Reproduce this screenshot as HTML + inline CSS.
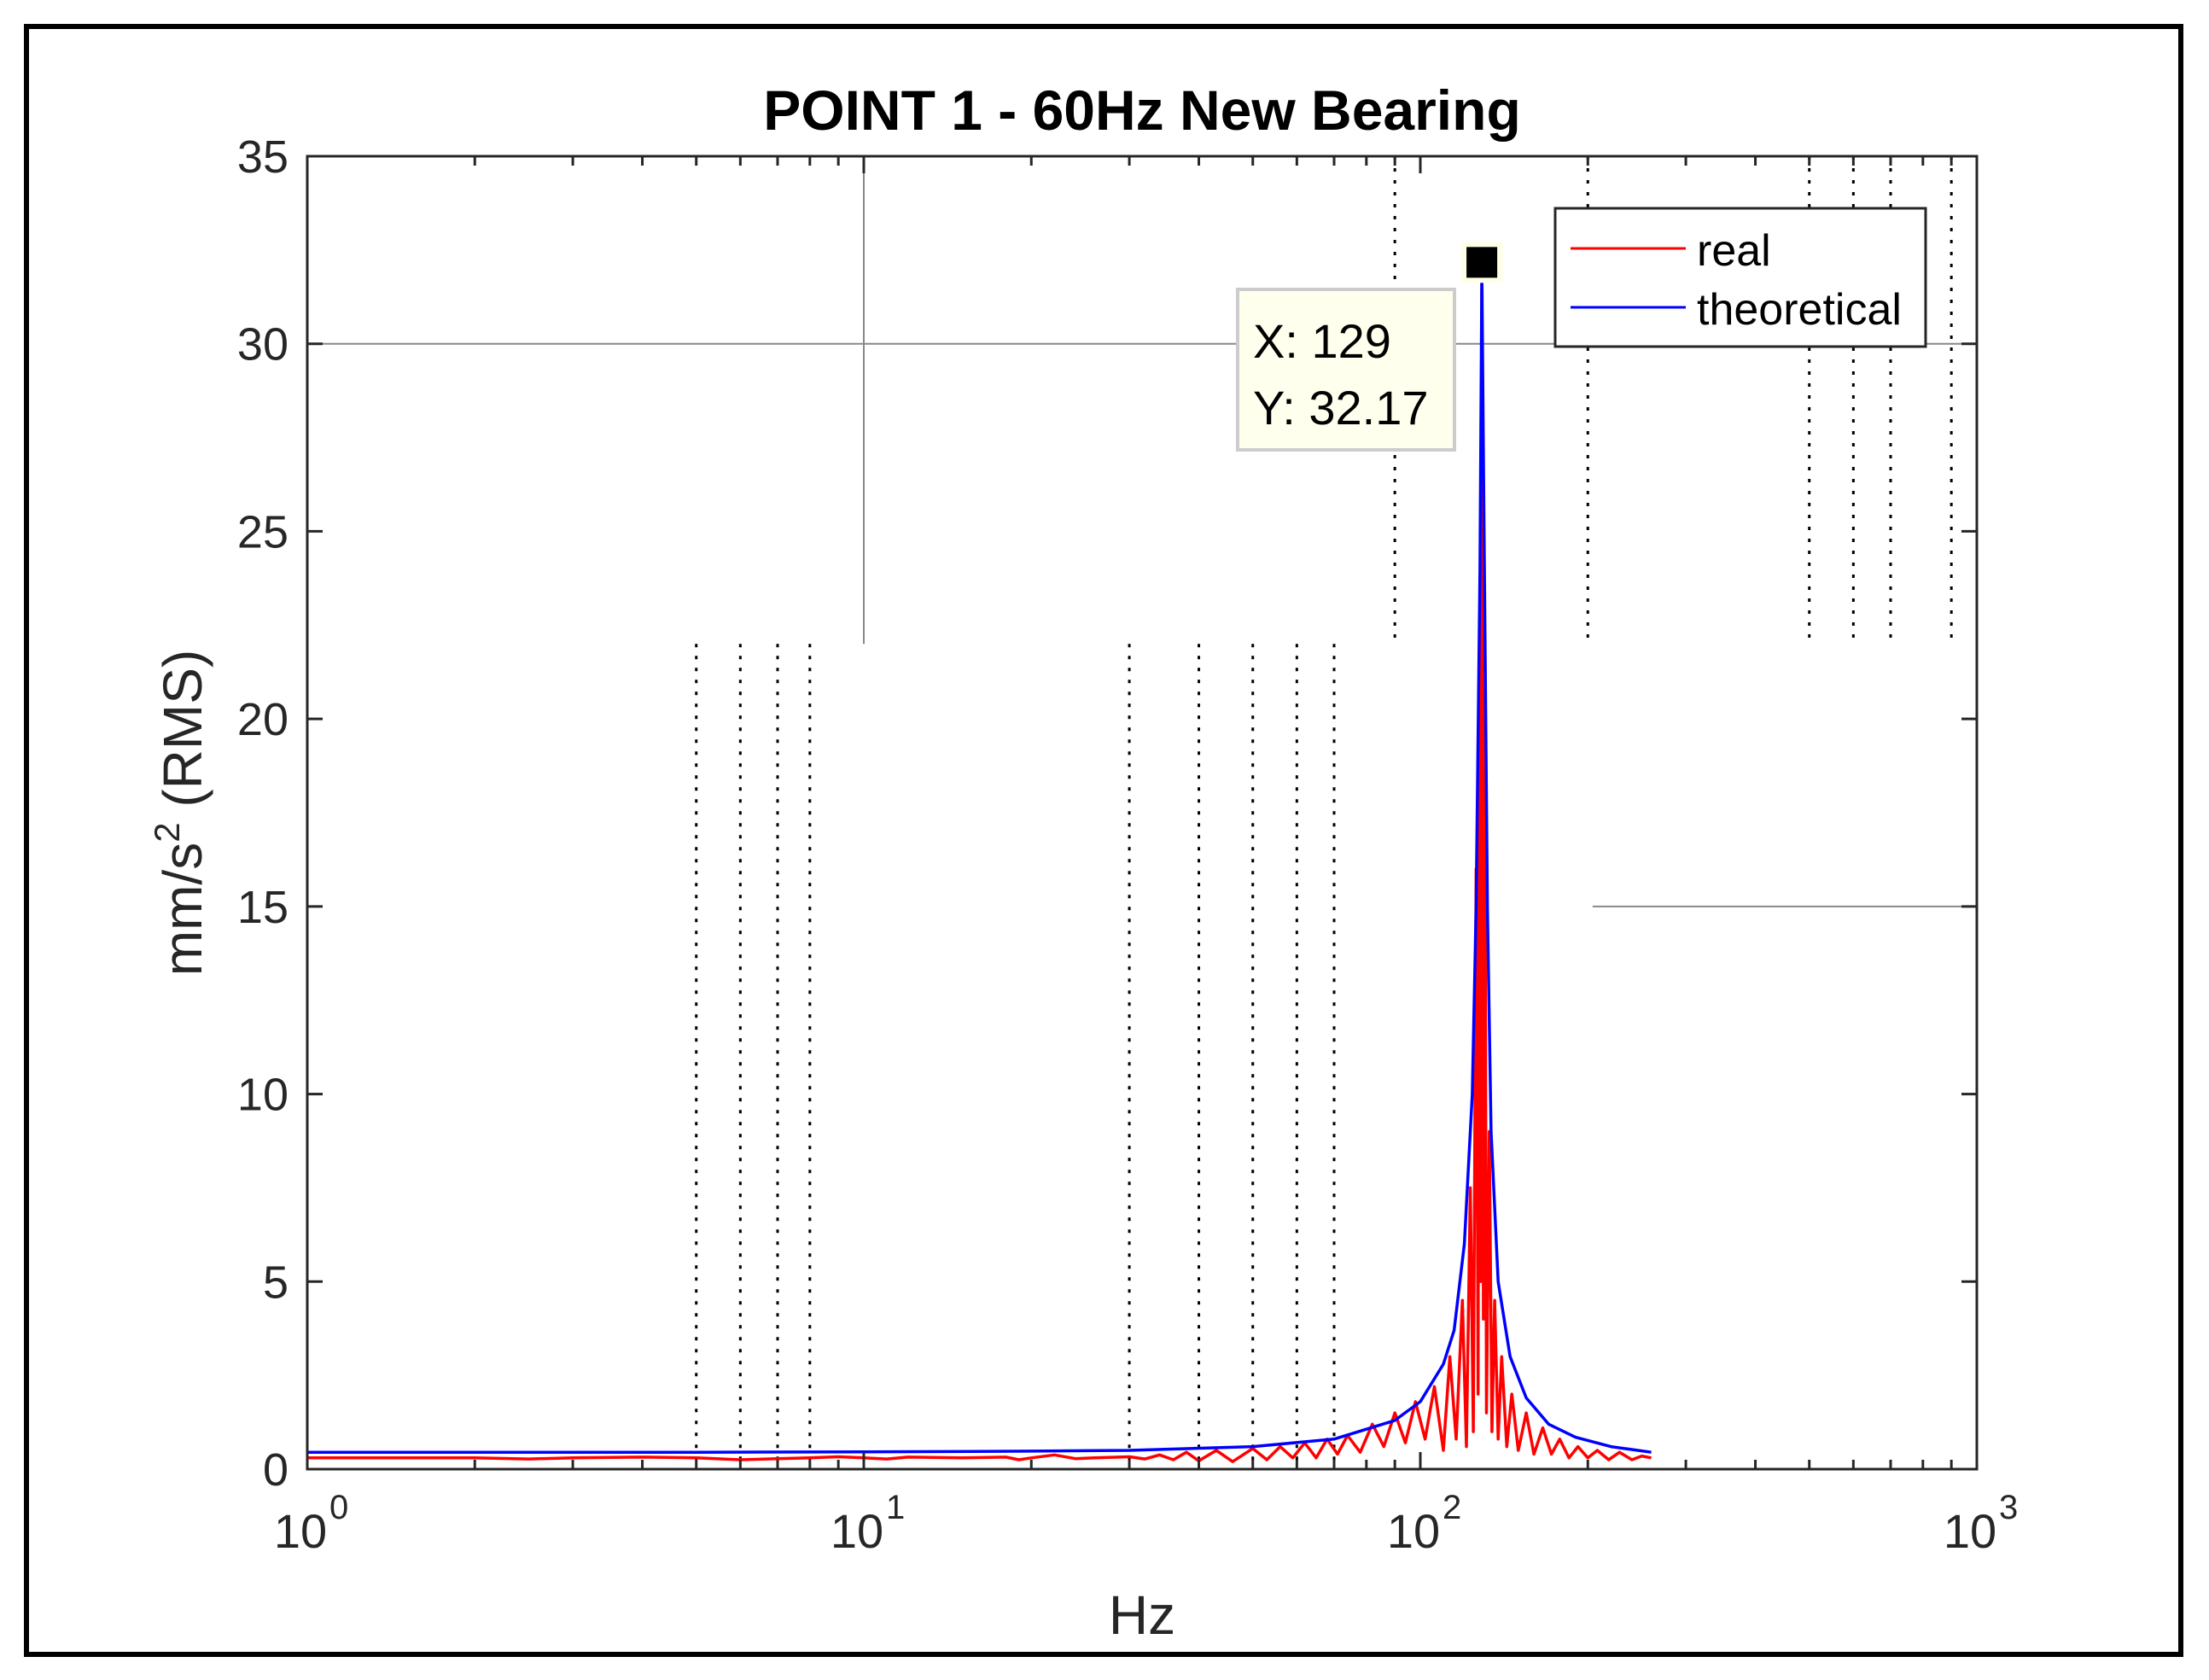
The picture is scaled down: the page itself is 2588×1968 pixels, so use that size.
<!DOCTYPE html>
<html><head><meta charset="utf-8"><style>
html,body{margin:0;padding:0;background:#fff;}
svg{display:block;font-family:"Liberation Sans",Arial,sans-serif;}
</style></head><body>
<svg id="chart" width="2588" height="1968" viewBox="0 0 2588 1968" xmlns="http://www.w3.org/2000/svg">
<rect x="31" y="31" width="2524" height="1907" fill="#fff" stroke="#000" stroke-width="6"/>
<g id="grid"></g>
<g id="series"></g>
<g id="axes"></g>
<text x="1338" y="152" font-size="66" font-weight="bold" text-anchor="middle">POINT 1 - 60Hz New Bearing</text>
<text x="1338" y="1914" font-size="64" fill="#262626" text-anchor="middle">Hz</text>
<text transform="translate(236,952) rotate(-90)" font-size="64" fill="#262626" text-anchor="middle">mm/s<tspan font-size="42" dy="-26">2</tspan><tspan dy="26"> (RMS)</tspan></text>
<g>
<rect x="1822" y="244" width="434" height="162" fill="#fff" stroke="#262626" stroke-width="3"/>
<line x1="1840" y1="291" x2="1975" y2="291" stroke="#ff0000" stroke-width="3"/>
<text x="1988" y="311" font-size="52">real</text>
<line x1="1840" y1="360" x2="1975" y2="360" stroke="#0000ff" stroke-width="3"/>
<text x="1988" y="380" font-size="52">theoretical</text>
</g>
<g id="tip"></g>
</svg>
<script>
const L=360,R=2316,T=183,B=1721;
const xMinExp=0,xMaxExp=3,yMin=0,yMax=35;
const yTicks=[0,5,10,15,20,25,30,35];
const xDecades=[0,1,2,3];
const theoFreq=[1,2,5,10,20,30,50,70,90,100,110,115,120,124,126,128,129,130,132,134,138,145,155,170,190,220,260];
const theoVal=[0.45,0.45,0.45,0.46,0.48,0.5,0.6,0.8,1.3,1.8,2.8,3.7,6,10,15,24,32,26,15,9,5,3,1.9,1.2,0.85,0.6,0.45];
const realFreq=[1,2,2.5,3,4,5,6,7,8,9,10,11,12,15,18,19,20,22,24,26,30,32,34,36,38,40,43,46,50,53,56,59,62,65,68,71,74,78,82,86,90,94,98,102,106,110,113,116,119,121,123,124.5,126,127,127.5,128.3,129,129.8,130.5,131.5,133,134.5,136,138,140,143,146,150,155,160,166,172,178,185,192,200,208,218,228,240,250,260];
const realVal=[0.3,0.3,0.27,0.3,0.32,0.3,0.25,0.28,0.3,0.33,0.3,0.27,0.32,0.3,0.32,0.25,0.3,0.38,0.28,0.3,0.33,0.27,0.38,0.25,0.45,0.22,0.5,0.2,0.55,0.25,0.6,0.3,0.7,0.3,0.8,0.4,0.9,0.45,1.2,0.6,1.5,0.7,1.8,0.8,2.2,0.5,3,0.8,4.5,0.6,7.5,1,16,2,21,5,32.17,4,21,1.5,9,1,4.5,0.8,3,0.6,2,0.5,1.5,0.4,1.1,0.4,0.8,0.3,0.6,0.3,0.5,0.25,0.45,0.25,0.35,0.3];
const dotTopFreq=[90,200,500,600,700,900];
const dotLowFreq=[5,6,7,8,30,40,50,60,70];
const tipX=129, tipY=32.17;
const NS="http://www.w3.org/2000/svg";
const xs=f=>L+(Math.log10(f)-xMinExp)/(xMaxExp-xMinExp)*(R-L);
const ys=v=>B-(v-yMin)/(yMax-yMin)*(B-T);
function mk(tag,attrs,parent){const e=document.createElementNS(NS,tag);for(const k in attrs)e.setAttribute(k,attrs[k]);parent.appendChild(e);return e;}
const grid=document.getElementById('grid'),ser=document.getElementById('series'),ax=document.getElementById('axes'),tip=document.getElementById('tip');
let g;
g=mk('line',{x1:L,y1:ys(30),x2:R,y2:ys(30),stroke:'#888',"stroke-width":2},grid);


g=mk('line',{x1:xs(10),y1:T,x2:xs(10),y2:ys(22),stroke:'#888',"stroke-width":2},grid);


g=mk('line',{x1:xs(204),y1:ys(15),x2:R,y2:ys(15),stroke:'#888',"stroke-width":2},grid);


dotTopFreq.forEach(f=>{const e=mk('line',{x1:xs(f),y1:T,x2:xs(f),y2:ys(22),stroke:'#000',"stroke-width":3,"stroke-dasharray":"4 10"},grid);

});
dotLowFreq.forEach(f=>{const e=mk('line',{x1:xs(f),y1:ys(22),x2:xs(f),y2:B,stroke:'#000',"stroke-width":3,"stroke-dasharray":"4 10"},grid);

});
const rp=mk('path',{d:realFreq.map((f,i)=>(i?'L':'M')+xs(f).toFixed(1)+','+ys(realVal[i]).toFixed(1)).join(''),fill:'none',stroke:'#ff0000',"stroke-width":3.5,"stroke-linejoin":"round"},ser);


const tp=mk('path',{d:theoFreq.map((f,i)=>(i?'L':'M')+xs(f).toFixed(1)+','+ys(theoVal[i]).toFixed(1)).join(''),fill:'none',stroke:'#0000ff',"stroke-width":3.5,"stroke-linejoin":"round"},ser);


const box=mk('rect',{x:L,y:T,width:R-L,height:B-T,fill:'none',stroke:'#262626',"stroke-width":3},ax);


yTicks.forEach(v=>{const y=ys(v);
mk('line',{x1:L,y1:y,x2:L+18,y2:y,stroke:'#262626',"stroke-width":3},ax);
mk('line',{x1:R,y1:y,x2:R-18,y2:y,stroke:'#262626',"stroke-width":3},ax);
const t=mk('text',{x:L-22,y:y+19,"font-size":54,fill:'#262626',"text-anchor":"end"},ax);t.textContent=v;

});
xDecades.forEach(d=>{const x=xs(Math.pow(10,d));
mk('line',{x1:x,y1:B,x2:x,y2:B-20,stroke:'#262626',"stroke-width":3},ax);
mk('line',{x1:x,y1:T,x2:x,y2:T+20,stroke:'#262626',"stroke-width":3},ax);
if(d<3)for(let m=2;m<10;m++){const xm=xs(m*Math.pow(10,d));
mk('line',{x1:xm,y1:B,x2:xm,y2:B-11,stroke:'#262626',"stroke-width":3},ax);
mk('line',{x1:xm,y1:T,x2:xm,y2:T+11,stroke:'#262626',"stroke-width":3},ax);}
const t=mk('text',{x:x-8,y:B+92,"font-size":56,fill:'#262626',"text-anchor":"middle"},ax);t.textContent='10';


const s=mk('text',{x:x+26,y:B+58,"font-size":40,fill:'#262626'},ax);s.textContent=d;});
const mx=xs(tipX),my=ys(tipY);
mk('rect',{x:mx-24,y:my-24,width:48,height:48,fill:'#ffffe6'},tip);
const mk2=mk('rect',{x:mx-18,y:my-18,width:36,height:36,fill:'#000'},tip);


mk('rect',{x:1450,y:339,width:254,height:188,fill:'#ffffee',stroke:'#cccccc',"stroke-width":4},tip);
const t1=mk('text',{x:1468,y:419,"font-size":56},tip);t1.textContent='X: '+tipX;
const t2=mk('text',{x:1468,y:497,"font-size":56},tip);t2.textContent='Y: '+tipY.toFixed(2);
</script>
</body></html>
